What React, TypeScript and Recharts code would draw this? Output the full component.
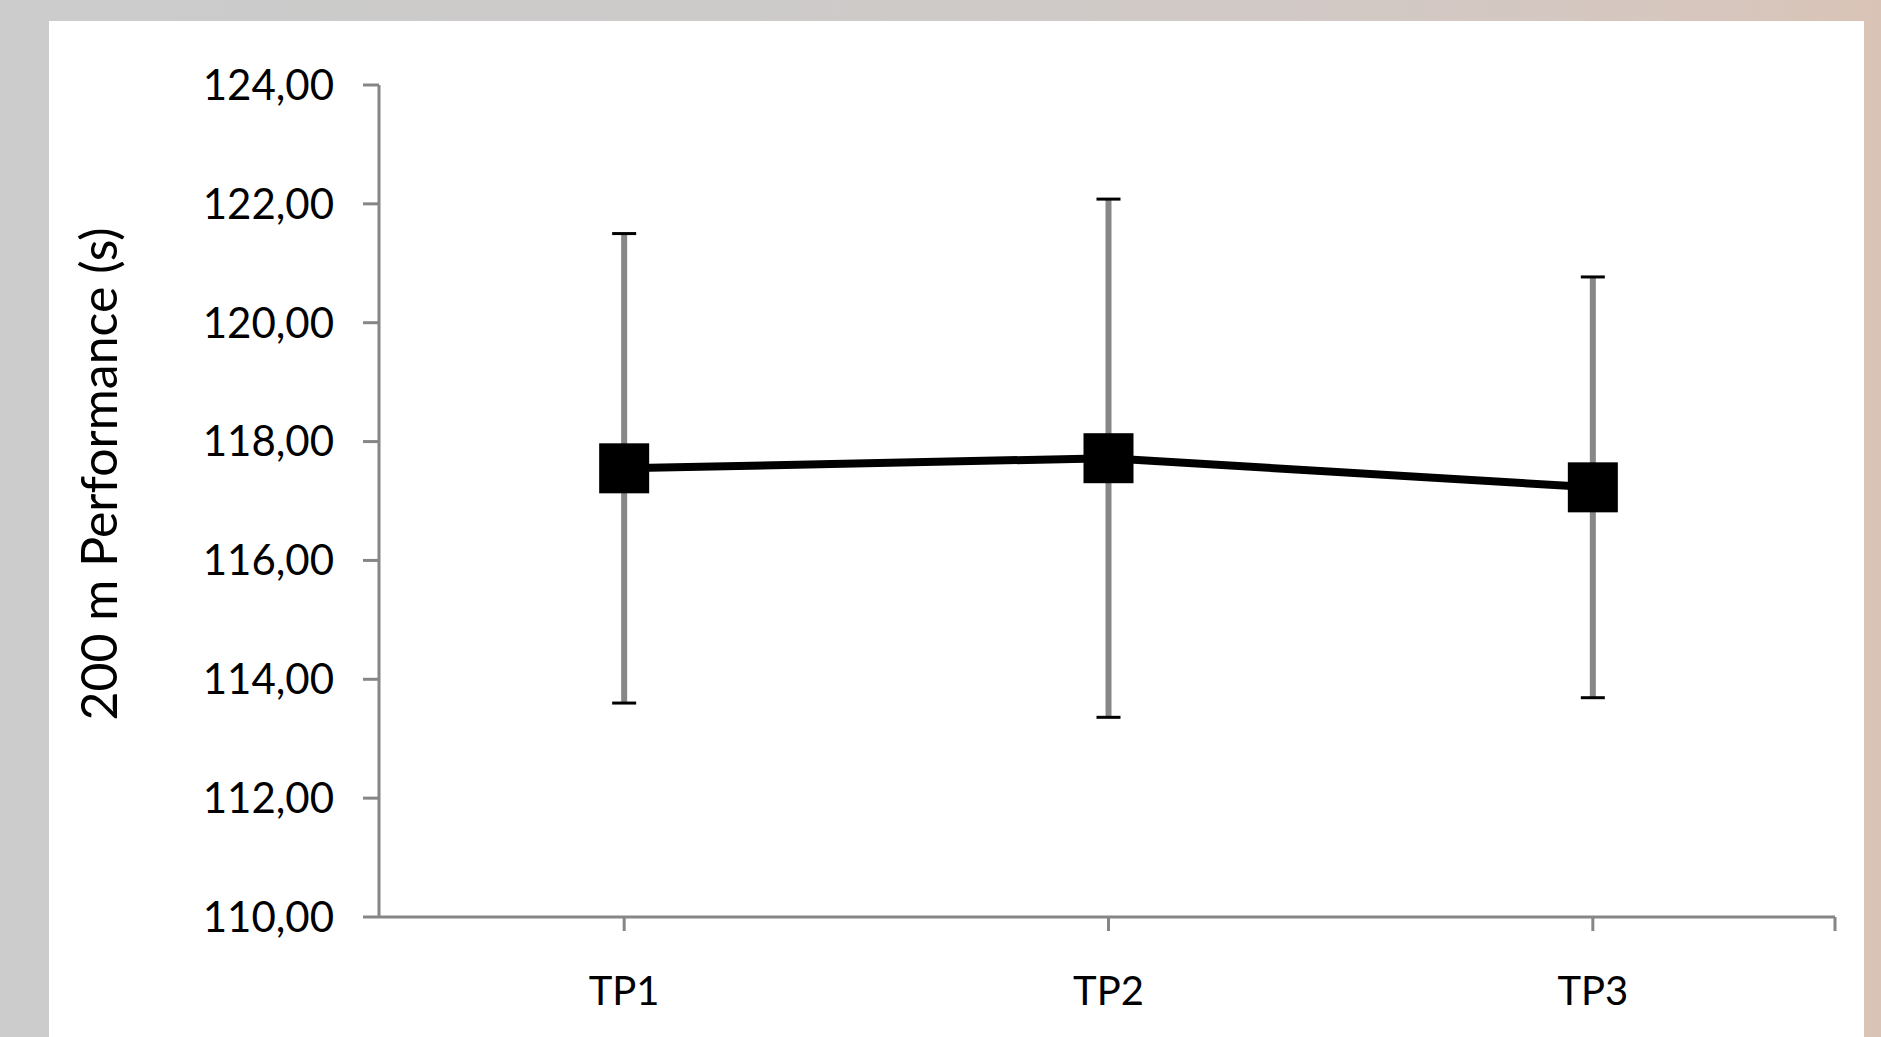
import { LineChart, Line, XAxis, YAxis, ErrorBar } from 'recharts';

// 200 m times at three test points (mean ± SD)
const categories = ['TP1', 'TP2', 'TP3'];
const means = [117.55, 117.72, 117.23];
const sds = [3.95, 4.36, 3.54];
const yTicks = [110, 112, 114, 116, 118, 120, 122, 124];
// last tick closes the axis at the right edge, it has no label
const xTicks = [1, 2, 3, 3.5];

const data = categories.map((name, i) => ({
  x: i + 1,
  name,
  mean: means[i],
  err: sds[i],
  hi: means[i] + sds[i],
  lo: means[i] - sds[i],
}));

const AXIS = '#868686';
const FONT = 'Lato, "Open Sans", sans-serif';

const fmtComma = (v: number) => v.toFixed(2).replace('.', ',');

function Square(props: any) {
  const { cx, cy, index } = props;
  if (cx == null || cy == null) return null;
  return <rect key={`sq-${index}`} x={cx - 25} y={cy - 25} width={50} height={50} fill="#000" />;
}

function Cap(props: any) {
  const { cx, cy, index, dataKey } = props;
  if (cx == null || cy == null) return null;
  return <rect key={`cap-${dataKey}-${index}`} x={cx - 12} y={cy - 1.5} width={24} height={3} fill="#000" />;
}

export default function App() {
  return (
    <div style={{ position: 'absolute', left: 0, top: 0, width: 1881, height: 1037, overflow: 'hidden',
      background: 'linear-gradient(90deg, #cccccc 0%, #cdcbca 40%, #d2c9c5 72%, #d6c6be 90%, #d9c3b6 100%)' }}>
      <div style={{ position: 'absolute', left: 49, top: 21, width: 1815, height: 1016, background: '#fff' }} />
      <div style={{ position: 'absolute', left: 0, top: 0 }}>
        <LineChart width={1881} height={1037} data={data} margin={{ top: 85, right: 46, bottom: 20, left: 0 }}>
          <XAxis
            dataKey="x"
            type="number"
            domain={[0.5, 3.5]}
            ticks={xTicks}
            interval={0}
            padding={{ left: 3, right: 0 }}
            tickFormatter={(v: number) => categories[v - 1] ?? ''}
            tick={{ fill: '#000', fontSize: 40, fontFamily: FONT }}
            tickSize={14}
            tickMargin={46}
            height={100}
            axisLine={{ stroke: AXIS, strokeWidth: 3 }}
            tickLine={{ stroke: AXIS, strokeWidth: 3 }}
          />
          <YAxis
            domain={[110, 124]}
            ticks={yTicks}
            interval={0}
            tickFormatter={fmtComma}
            tick={{ fill: '#000', fontSize: 42, fontFamily: FONT }}
            tickSize={16}
            tickMargin={29}
            width={379}
            axisLine={{ stroke: AXIS, strokeWidth: 3 }}
            tickLine={{ stroke: AXIS, strokeWidth: 3 }}
          />
          <Line
            dataKey="mean"
            type="linear"
            stroke="#000"
            strokeWidth={8}
            dot={Square}
            activeDot={false}
            isAnimationActive={false}
          >
            <ErrorBar dataKey="err" direction="y" width={0} strokeWidth={6} stroke="#878787" isAnimationActive={false} />
          </Line>
          <Line dataKey="hi" stroke="none" dot={Cap} activeDot={false} isAnimationActive={false} legendType="none" />
          <Line dataKey="lo" stroke="none" dot={Cap} activeDot={false} isAnimationActive={false} legendType="none" />
        </LineChart>
      </div>
      <svg width={1881} height={1037} style={{ position: 'absolute', left: 0, top: 0, pointerEvents: 'none' }}>
        <text
          transform="translate(117,474) rotate(-90)"
          textAnchor="middle"
          fontSize={50}
          fontFamily={FONT}
          fill="#000"
        >
          200 m Performance (s)
        </text>
      </svg>
    </div>
  );
}
